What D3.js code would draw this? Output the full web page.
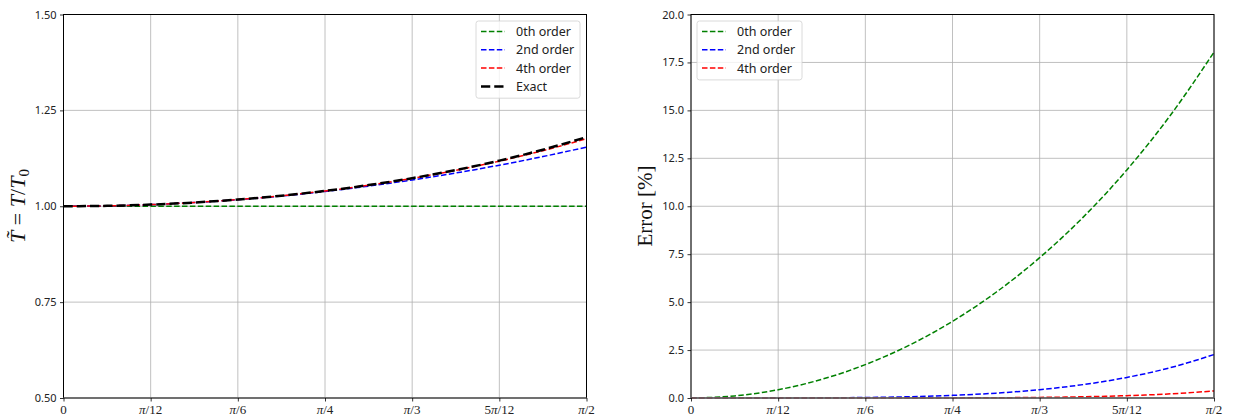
<!DOCTYPE html>
<html>
<head>
<meta charset="utf-8">
<script src="https://cdn.jsdelivr.net/npm/d3@7"></script>
<style>
  html, body { margin: 0; padding: 0; background: #fff; }
  svg { display: block; }
</style>
</head>
<body>
<svg id="chart" width="1233" height="419"></svg>
<script>
// ---- data (amplitude theta0 in units of pi/24, 0..12) ----
const thetaSteps = [0, 1, 2, 3, 4, 5, 6, 7, 8, 9, 10, 11, 12];
const ratio0th = [1, 1, 1, 1, 1, 1, 1, 1, 1, 1, 1, 1, 1];
const ratio2nd = [1.0, 1.00107, 1.00428, 1.00964, 1.01714, 1.02677, 1.03855, 1.05248, 1.06854, 1.08675, 1.10709, 1.12958, 1.15421];
const ratio4th = [1.0, 1.00107, 1.00430, 1.00972, 1.01740, 1.02743, 1.03992, 1.05500, 1.07285, 1.09364, 1.11761, 1.14497, 1.17601];
const ratioExact = [1.0, 1.00107, 1.00430, 1.00973, 1.01741, 1.02745, 1.03997, 1.05515, 1.07318, 1.09434, 1.11896, 1.14745, 1.18034];
const err0th = [0, 0.107, 0.430, 0.973, 1.741, 2.745, 3.997, 5.515, 7.318, 9.434, 11.896, 14.745, 18.034];
const err2nd = [0, 0.0001, 0.0016, 0.0086, 0.027, 0.066, 0.137, 0.254, 0.435, 0.699, 1.072, 1.582, 2.264];
const err4th = [0, 0, 0, 0.0002, 0.0005, 0.002, 0.0055, 0.014, 0.031, 0.064, 0.121, 0.216, 0.368];
const xTickSteps = [0, 2, 4, 6, 8, 10, 12];
const xTickLabels = [["", "0", ""], ["", "\u03C0", "/12"], ["", "\u03C0", "/6"], ["", "\u03C0", "/4"], ["", "\u03C0", "/3"], ["5", "\u03C0", "/12"], ["", "\u03C0", "/2"]];
const leftYTicks = [0.5, 0.75, 1.0, 1.25, 1.5];
const rightYTicks = [0, 2.5, 5, 7.5, 10, 12.5, 15, 17.5, 20];
const leftNames = ["0th order", "2nd order", "4th order", "Exact"];
const rightNames = ["0th order", "2nd order", "4th order"];
const colors = ["#008000", "#0000ff", "#ff0000", "#000000"];

const svg = d3.select("#chart");
const tickFont = "'Noto Sans', 'DejaVu Sans', sans-serif";

function panel(opts) {
  const {x0, x1, y0, y1, yDomain, yTicks, yFmt, series, names, legend} = opts;
  const g = svg.append("g");
  const x = d3.scaleLinear().domain([0, 12]).range([x0, x1]);
  const y = d3.scaleLinear().domain(yDomain).range([y1, y0]);

  // grid
  g.append("g").selectAll("line").data(xTickSteps).join("line")
    .attr("x1", d => x(d)).attr("x2", d => x(d)).attr("y1", y0).attr("y2", y1)
    .attr("stroke", "#b0b0b0").attr("stroke-width", 0.8);
  g.append("g").selectAll("line").data(yTicks).join("line")
    .attr("x1", x0).attr("x2", x1).attr("y1", d => y(d)).attr("y2", d => y(d))
    .attr("stroke", "#b0b0b0").attr("stroke-width", 0.8);

  // lines
  const line = d3.line().x((d, i) => x(thetaSteps[i])).y(d => y(d)).curve(d3.curveMonotoneX);
  series.forEach((s, i) => {
    const isExact = i === 3;
    g.append("path").datum(s).attr("d", line)
      .attr("fill", "none").attr("stroke", colors[i])
      .attr("stroke-width", isExact ? 2.5 : 1.5)
      .attr("stroke-dasharray", isExact ? "9.25,4" : "5.5,2.4");
  });

  // spines
  g.append("rect").attr("x", x0).attr("y", y0).attr("width", x1 - x0).attr("height", y1 - y0)
    .attr("fill", "none").attr("stroke", "#000").attr("stroke-width", 1);
  g.append("line").attr("x1", x0).attr("x2", x1).attr("y1", y1).attr("y2", y1)
    .attr("stroke", "#707070").attr("stroke-width", 1.6);

  // y axis
  const ya = d3.axisLeft(y).tickValues(yTicks).tickFormat(yFmt).tickSize(3.5).tickPadding(3.5);
  const yg = g.append("g").attr("transform", `translate(${x0},0)`).call(ya);
  yg.select(".domain").remove();
  yg.selectAll("text").attr("font-family", tickFont).attr("font-size", 11).attr("fill", "#222");
  yg.selectAll("line").attr("stroke-width", 0.8);

  // x axis
  const xa = d3.axisBottom(x).tickValues(xTickSteps).tickFormat("").tickSize(3.5);
  const xg = g.append("g").attr("transform", `translate(0,${y1})`).call(xa);
  xg.select(".domain").remove();
  xg.selectAll("line").attr("stroke-width", 0.8);
  xTickSteps.forEach((t, i) => {
    const lab = xTickLabels[i];
    const txt = g.append("text").attr("x", x(t)).attr("y", y1 + 16)
      .attr("text-anchor", "middle").attr("font-family", "'Liberation Serif', 'DejaVu Serif', serif")
      .attr("font-size", 13).attr("fill", "#222");
    if (lab[0]) txt.append("tspan").text(lab[0]);
    txt.append("tspan").attr("font-style", lab[1] === "\u03C0" ? "italic" : "normal").text(lab[1]);
    if (lab[2]) txt.append("tspan").text(lab[2]);
  });

  // legend
  const lg = g.append("g");
  lg.append("rect").attr("x", legend.x).attr("y", legend.y).attr("width", legend.w)
    .attr("height", names.length * 18.3 + 4).attr("rx", 2.5)
    .attr("fill", "#fff").attr("fill-opacity", 0.8).attr("stroke", "#d0d0d0").attr("stroke-width", 0.8);
  names.forEach((n, i) => {
    const yy = legend.y + 10.5 + i * 18.3;
    const isExact = i === 3;
    lg.append("line").attr("x1", legend.x + 5).attr("x2", legend.x + 29).attr("y1", yy).attr("y2", yy)
      .attr("stroke", colors[i]).attr("stroke-width", isExact ? 2.5 : 1.5)
      .attr("stroke-dasharray", isExact ? "9.25,4" : "5.5,2.4");
    lg.append("text").attr("x", legend.x + 40).attr("y", yy).attr("dy", "0.36em")
      .attr("font-family", tickFont).attr("font-size", 12.5).attr("fill", "#222").text(n);
  });
  return g;
}

panel({x0: 63.5, x1: 586.5, y0: 14.5, y1: 398, yDomain: [0.5, 1.5], yTicks: leftYTicks,
  yFmt: d3.format(".2f"), series: [ratio0th, ratio2nd, ratio4th, ratioExact], names: leftNames,
  legend: {x: 476, y: 21, w: 104}});
panel({x0: 691, x1: 1214, y0: 14.5, y1: 398, yDomain: [0, 20], yTicks: rightYTicks,
  yFmt: d3.format(".1f"), series: [err0th, err2nd, err4th], names: rightNames,
  legend: {x: 697, y: 21, w: 105}});

// y labels
const lab1 = svg.append("text").attr("transform", "translate(25,206) rotate(-90)")
  .attr("text-anchor", "middle").attr("font-family", "'Liberation Serif', 'DejaVu Serif', serif")
  .attr("font-size", 22).attr("fill", "#111");
lab1.append("tspan").attr("font-style", "italic").text("T\u0303");
lab1.append("tspan").text(" = ");
lab1.append("tspan").attr("font-style", "italic").text("T");
lab1.append("tspan").text("/");
lab1.append("tspan").attr("font-style", "italic").text("T");
lab1.append("tspan").attr("font-size", 15).attr("dy", 4).text("0");

const lab2 = svg.append("text").attr("transform", "translate(652,206) rotate(-90)")
  .attr("text-anchor", "middle").attr("font-family", "'Liberation Serif', 'DejaVu Serif', serif")
  .attr("font-size", 21).attr("fill", "#111").text("Error [%]");
</script>
</body>
</html>
